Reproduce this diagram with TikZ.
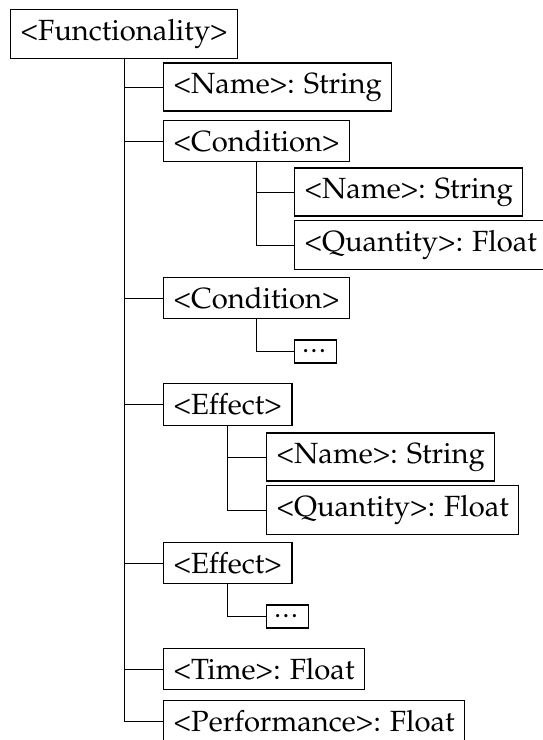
\documentclass[tikz,border=0pt]{standalone}
\usepackage[T1]{fontenc}
\usepackage{mathpazo}
\begin{document}
\begin{tikzpicture}[x=1pt,y=-1pt,
  box/.style={draw, line width=1.3pt, anchor=west, inner sep=9.8pt,
    font=\fontsize{29.2}{35}\selectfont},
  dotbox/.style={draw, line width=1.3pt, anchor=west, inner sep=0pt,
    minimum width=42pt, minimum height=23pt,
    font=\fontsize{21}{25}\selectfont\bfseries},
  link/.style={line width=1.0pt}]
\useasboundingbox (0,0) rectangle (542,740);

% root
\node[box] (fun) at (10,34) {<Functionality>};

% first level
\node[box] (name)  at (163,87)    {<Name>: String};
\node[box] (cond1) at (163,141)   {<Condition>};
\node[box] (cond2) at (163,298)   {<Condition>};
\node[box] (eff1)  at (163,404.5) {<Effect>};
\node[box] (eff2)  at (163,563)   {<Effect>};
\node[box] (time)  at (163,669)   {<Time>: Float};
\node[box] (perf)  at (163,721)   {<Performance>: Float};

% children of the first condition
\node[box] (c1name) at (294,192) {<Name>: String};
\node[box] (c1qty)  at (294,245) {<Quantity>: Float};
% children of the second condition
\node[dotbox] (c2dots) at (294,351.5) {\ldots};

% children of the first effect
\node[box] (e1name) at (266,457) {<Name>: String};
\node[box] (e1qty)  at (266,510) {<Quantity>: Float};
% children of the second effect
\node[dotbox] (e2dots) at (266,616.5) {\ldots};

% main trunk
\draw[link] (fun.south) |- (perf.west);
\foreach \n in {name,cond1,cond2,eff1,eff2,time}
  \draw[link] (fun.south |- \n.west) -- (\n.west);

% sub trunks
\draw[link] (cond1.south) |- (c1qty.west);
\draw[link] (cond1.south |- c1name.west) -- (c1name.west);
\draw[link] (cond2.south) |- (c2dots.west);
\draw[link] (eff1.south) |- (e1qty.west);
\draw[link] (eff1.south |- e1name.west) -- (e1name.west);
\draw[link] (eff2.south) |- (e2dots.west);
\end{tikzpicture}
\end{document}
